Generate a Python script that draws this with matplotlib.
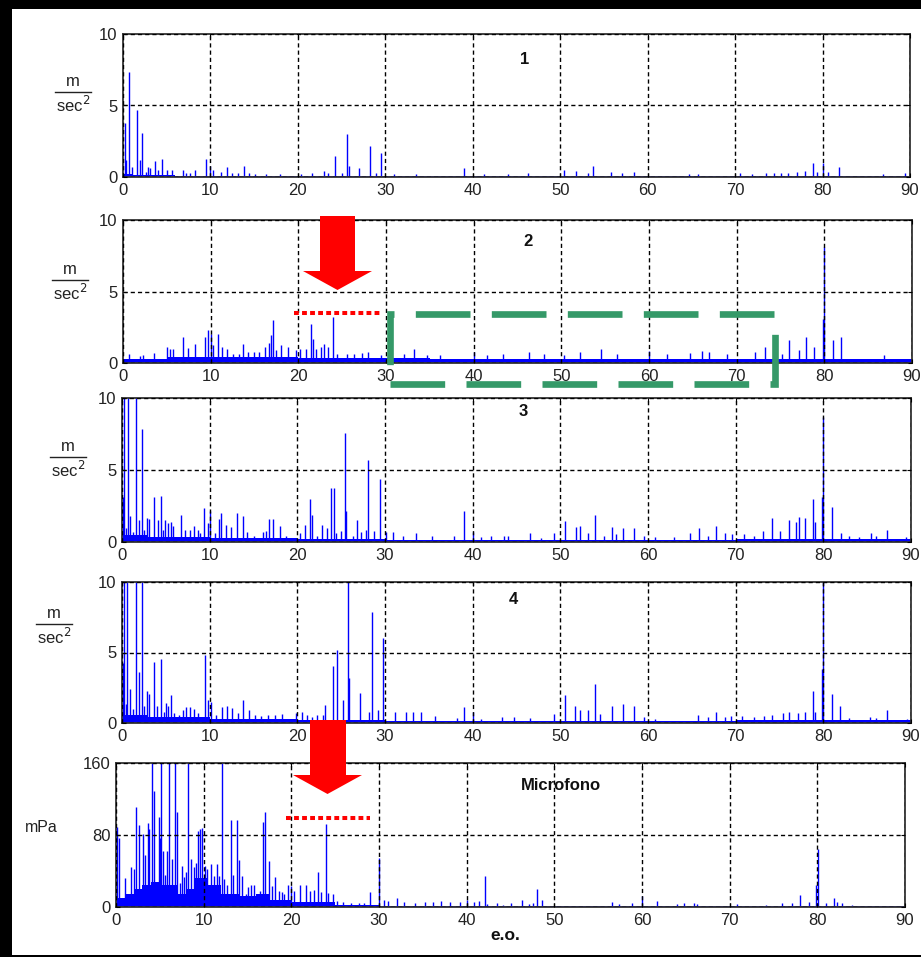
import matplotlib
matplotlib.use('Agg')
import matplotlib.pyplot as plt
from matplotlib.patches import Polygon, Rectangle
from matplotlib.lines import Line2D

# ---- data ----
p1_x = [0.2, 0.3, 0.65, 1.0, 1.65, 1.9, 2.2, 2.6, 2.9, 3.1, 3.7, 4.0, 4.5, 5.0, 5.6, 6.9, 7.2, 7.7, 8.2,
        9.5, 10.0, 10.3, 11.2, 11.85, 12.5, 13.1, 13.8, 14.4, 15.1, 16.3, 17.9, 20.4, 21.6, 23.0, 23.4,
        24.2, 25.0, 25.6, 25.8, 27.0, 28.25, 28.9, 29.5, 31.0, 33.5, 39.0, 41.25, 44.0, 46.3, 50.45,
        51.8, 53.2, 53.8, 55.8, 57.1, 58.4, 64.7, 65.8, 70.6, 71.9, 73.5, 74.4, 75.3, 76.1, 77.1, 78.0,
        78.9, 79.4, 80.0, 80.6, 81.9, 86.9, 89.4]
p1_h = [3.8, 1.2, 7.35, 0.7, 4.7, 1.2, 3.1, 0.35, 0.7, 0.6, 1.15, 0.5, 1.25, 0.5, 0.5, 0.5, 0.3, 0.3, 0.5,
        1.25, 0.8, 0.5, 0.35, 0.7, 0.3, 0.3, 0.8, 0.3, 0.2, 0.2, 0.2, 0.2, 0.3, 0.4, 0.3,
        1.5, 0.3, 3.0, 0.8, 0.6, 2.2, 0.3, 1.7, 0.2, 0.2, 0.6, 0.2, 0.2, 0.3, 0.5,
        0.4, 0.3, 0.8, 0.35, 0.3, 0.35, 0.2, 0.2, 0.3, 0.2, 0.25, 0.3, 0.3, 0.3, 0.35, 0.4,
        1.0, 0.35, 0.95, 0.35, 0.7, 0.2, 0.3]
p1_floor_x = [0, 1, 6, 15, 90]
p1_floor_y = [0.2, 0.15, 0.1, 0.08, 0.08]

p2_x = [0.7, 1.9, 2.3, 3.55, 5.0, 5.35, 5.75, 6.9, 7.45, 8.2, 8.7, 9.3, 9.75, 10.0, 10.3, 10.8, 11.25,
        11.85, 12.6, 13.2, 13.65, 14.3, 14.9, 15.55, 16.2, 16.7, 16.85, 17.1, 17.5, 18.0, 18.85, 19.7,
        20.2, 20.85, 21.5, 21.7, 22.0, 22.55, 22.9, 23.4, 23.9, 24.4, 25.55, 26.3, 27.3, 28.0, 29.4,
        32.1, 33.2, 34.7, 36.2, 40.0, 41.5, 43.4, 46.3, 48.0, 50.35, 52.1, 54.55, 56.35, 60.05, 62.0,
        64.7, 66.0, 66.8, 68.9, 72.05, 73.2, 75.2, 76.0, 77.1, 77.95, 78.85, 79.8, 80.0, 80.95, 81.9,
        86.85, 89.4]
p2_h = [0.6, 0.5, 0.55, 0.7, 1.15, 0.95, 0.95, 1.8, 1.05, 1.3, 0.45, 1.8, 2.3, 2.0, 1.25, 2.0, 1.1,
        1.0, 0.65, 0.65, 1.35, 0.8, 0.8, 0.8, 1.1, 1.4, 1.95, 3.0, 0.9, 1.25, 1.1, 0.9,
        0.95, 0.95, 2.75, 1.7, 1.0, 1.1, 1.3, 1.1, 3.2, 0.65, 0.65, 0.6, 0.7, 0.8, 0.55,
        0.65, 0.95, 0.55, 0.55, 0.8, 0.55, 0.6, 0.75, 0.65, 0.55, 0.8, 0.95, 0.65, 0.85, 0.6,
        0.7, 0.85, 0.75, 0.6, 0.75, 1.1, 0.65, 1.6, 0.9, 1.8, 1.15, 3.1, 8.1, 1.6, 1.8,
        0.55, 0.3]
p2_floor_x = [0, 5, 20, 35, 70, 90]
p2_floor_y = [0.3, 0.4, 0.35, 0.28, 0.3, 0.3]

p3_x = [0.1, 0.25, 0.5, 0.7, 0.95, 1.25, 1.55, 1.9, 2.25, 2.5, 2.8, 3.1, 3.65, 4.1, 4.45, 4.7, 4.95,
        5.2, 5.55, 5.85, 6.7, 7.2, 7.7, 8.2, 8.65, 8.95, 9.4, 9.8, 10.05, 10.6, 11.05, 11.25, 11.9,
        12.4, 13.1, 13.75, 14.3, 15.1, 16.05, 16.4, 16.8, 17.2, 18.0, 18.7, 20.3, 20.9, 21.5, 21.7,
        22.2, 22.85, 23.35, 23.8, 24.15, 24.45, 25.0, 25.4, 25.6, 26.35, 26.85, 27.3, 27.8, 28.1,
        28.8, 29.4, 30.1, 30.9, 32.0, 33.5, 35.4, 37.9, 39.05, 40.0, 40.95, 42.1, 43.6, 44.0, 46.5,
        47.8, 49.25, 50.5, 51.8, 52.2, 53.1, 53.9, 55.0, 55.9, 56.35, 57.2, 58.4, 59.55, 60.8, 63.0,
        64.8, 65.8, 66.8, 67.8, 68.8, 69.6, 70.9, 72.1, 73.1, 74.1, 75.05, 76.1, 76.9, 77.2, 77.9,
        78.85, 79.0, 79.8, 80.0, 81.0, 82.0, 82.95, 84.1, 85.4, 86.0, 87.3, 89.4]
p3_h = [3.1, 12, 0.95, 12, 1.8, 0.7, 12, 1.5, 7.85, 0.85, 1.7, 1.6, 3.1, 1.5, 3.2, 0.8, 1.5,
        1.3, 1.4, 1.1, 1.9, 0.85, 0.85, 1.1, 0.8, 0.6, 2.35, 1.3, 2.15, 0.6, 1.6, 2.0, 1.2,
        1.05, 2.0, 1.8, 0.7, 0.45, 0.7, 0.75, 1.6, 1.6, 1.1, 0.45, 0.6, 1.2, 3.0, 1.85,
        0.45, 1.2, 0.95, 3.75, 3.75, 0.6, 0.75, 7.55, 2.15, 0.45, 1.5, 0.7, 0.85, 5.7,
        0.75, 4.35, 0.7, 0.7, 0.45, 0.6, 0.4, 0.4, 2.15, 0.7, 0.35, 0.45, 0.45, 0.45, 0.6,
        0.25, 0.6, 1.45, 1.05, 1.1, 0.65, 1.85, 0.45, 1.05, 0.55, 1.0, 1.0, 0.45, 0.35, 0.35,
        0.65, 1.0, 0.45, 1.1, 0.6, 0.55, 0.55, 0.45, 0.75, 1.65, 0.75, 1.5, 1.4, 1.75, 1.65,
        3.0, 1.4, 3.1, 8.7, 2.45, 0.6, 0.45, 0.35, 0.6, 0.45, 0.85, 0.35]
p3_floor_x = [0, 3, 10, 20, 30, 70, 90]
p3_floor_y = [0.5, 0.35, 0.3, 0.2, 0.15, 0.2, 0.2]

p4_x = [0.1, 0.25, 0.45, 0.6, 0.95, 1.25, 1.55, 1.9, 2.25, 2.55, 2.85, 3.1, 3.65, 3.95, 4.45, 4.75,
        5.0, 5.25, 5.6, 5.9, 6.5, 6.95, 7.3, 7.8, 8.25, 8.7, 9.5, 9.85, 10.2, 10.75, 11.35, 12.0,
        12.5, 13.2, 13.85, 14.5, 15.2, 15.8, 16.6, 17.4, 18.2, 19.8, 20.5, 21.1, 21.7, 22.3, 22.9,
        23.15, 24.1, 24.5, 25.25, 25.75, 25.95, 27.2, 28.2, 28.5, 29.2, 29.75, 31.15, 32.35, 33.2,
        34.15, 35.7, 38.2, 39.05, 40.0, 41.0, 43.4, 44.75, 46.5, 49.25, 50.55, 51.7, 52.2, 53.1,
        53.9, 54.55, 55.9, 57.2, 58.4, 59.55, 60.8, 63.0, 65.7, 66.8, 67.8, 68.75, 69.5, 70.75,
        72.1, 73.2, 74.1, 75.35, 76.1, 77.1, 77.95, 78.85, 79.0, 79.8, 80.0, 80.95, 81.9, 82.95,
        85.35, 86.0, 87.3, 89.6]
p4_h = [4.25, 12, 1.35, 12, 2.4, 1.0, 12, 3.6, 12, 1.2, 2.3, 2.05, 4.35, 1.2, 4.55, 0.8,
        1.4, 1.2, 2.0, 0.7, 0.6, 0.95, 1.15, 1.15, 1.0, 0.7, 4.8, 1.65, 1.5, 0.6, 1.15, 1.2,
        1.05, 0.7, 1.65, 0.9, 0.6, 0.5, 0.6, 0.6, 0.65, 0.7, 0.8, 0.6, 0.45, 0.6, 0.6,
        1.25, 4.05, 5.2, 1.65, 12, 3.2, 2.1, 0.8, 7.9, 0.95, 6.05, 0.8, 0.8, 0.8,
        0.75, 0.5, 0.35, 1.1, 0.75, 0.25, 0.4, 0.45, 0.35, 0.65, 2.0, 1.2, 0.9, 0.9,
        2.75, 0.65, 1.2, 1.35, 1.2, 0.45, 0.25, 0.15, 0.6, 0.45, 0.8, 0.45, 0.5, 0.5,
        0.4, 0.5, 0.6, 0.7, 0.8, 0.7, 0.8, 2.3, 0.8, 3.8, 12, 2.05, 1.2, 0.35,
        0.45, 0.35, 0.9, 0.25]
p4_floor_x = [0, 3, 10, 20, 30, 70, 90]
p4_floor_y = [0.6, 0.4, 0.3, 0.2, 0.15, 0.2, 0.2]

mic_x = [0.15, 0.35, 1.0, 1.7, 2.0, 2.3, 2.65, 3.05, 3.3, 3.6, 3.8, 4.1, 4.3, 4.65, 4.9, 5.05, 5.15,
         5.4, 5.6, 5.8, 6.0, 6.4, 6.75, 6.95, 7.3, 7.55, 7.8, 8.0, 8.2, 8.5, 8.85, 9.15, 9.4, 9.6,
         9.8, 10.2, 10.4, 10.8, 11.15, 11.5, 11.8, 12.05, 12.3, 12.7, 13.1, 13.35, 13.75, 14.05,
         14.4, 14.8, 15.05, 15.35, 15.7, 16.0, 16.4, 16.8, 17.05, 17.4, 17.75, 18.1, 18.6, 18.9,
         19.15, 19.65, 20.0, 20.25, 21.0, 21.65, 22.15, 22.6, 23.05, 23.35, 23.95, 24.2, 24.7,
         25.2, 25.85, 26.8, 27.75, 28.3, 28.95, 29.95, 30.6, 31.05, 32.05, 32.9, 34.05, 35.2,
         36.15, 37.1, 38.05, 39.2, 40.0, 40.85, 41.4, 42.1, 42.35, 43.5, 44.1, 45.05, 46.35, 47.1,
         47.6, 48.0, 48.6, 56.6, 57.35, 58.9, 60.0, 61.7, 64.0, 64.75, 65.9, 66.3, 70.85, 74.1,
         76.0, 77.15, 78.0, 79.05, 79.9, 80.05, 80.95, 81.9, 82.25, 82.85, 83.95]
mic_h = [89, 77, 32, 45, 42, 111, 91, 81, 58, 93, 87, 200, 129, 23, 100, 77, 200,
         62, 36, 62, 200, 53, 200, 106, 27, 46, 33, 39, 200, 53, 44, 49, 85, 87,
         88, 46, 42, 48, 35, 48, 35, 200, 31, 25, 97, 36, 97, 52,
         35, 14, 22, 24, 25, 7, 18, 94, 106, 51, 23, 33, 18, 17,
         15, 25, 23, 18, 24, 24, 18, 19, 39, 17, 92, 16, 14,
         7, 6, 4.5, 4, 4.5, 17, 54, 7.5, 7, 10, 6, 4, 6,
         6, 6.5, 6, 6, 7.5, 5.5, 6.5, 34, 3, 4, 2.6, 4, 7.5, 3,
         4.5, 20, 7.5, 5.5, 3, 4.5, 12, 6.5, 3, 4, 4.5, 3, 3, 2.6,
         4, 4.5, 13, 5.5, 24, 64, 4, 9.5, 5.5, 4, 2.6]
mic_floor_x = [0, 1, 2, 3, 4, 5, 7, 8, 9, 10.5, 12, 14, 16, 17.5, 20, 25, 30, 90]
mic_floor_y = [10, 15, 20, 24, 28, 24, 15, 20, 32, 24, 15, 12, 15, 8, 6, 2.5, 1.5, 1.5]

x_ticks = [0, 10, 20, 30, 40, 50, 60, 70, 80, 90]
acc_yticks = [0, 5, 10]
mic_yticks = [0, 80, 160]
panel_names = ['1', '2', '3', '4', 'Microfono']

W, H = 921, 957
fig = plt.figure(figsize=(W / 100, H / 100), dpi=100)
fig.patch.set_facecolor('white')


def fx(x):
    return x / W


def fy(y):
    return 1 - y / H


def make_ax(l, t, r, b):
    return fig.add_axes([fx(l), fy(b), (r - l) / W, (b - t) / H])


# axes boxes in pixels (left, top, right, bottom)
boxes = [(123, 34, 910, 177), (123, 220, 912, 363), (122, 398, 911, 542),
         (122, 582, 911, 723), (116, 763, 905, 907)]
series = [(p1_x, p1_h, p1_floor_x, p1_floor_y), (p2_x, p2_h, p2_floor_x, p2_floor_y),
          (p3_x, p3_h, p3_floor_x, p3_floor_y), (p4_x, p4_h, p4_floor_x, p4_floor_y),
          (mic_x, mic_h, mic_floor_x, mic_floor_y)]

tick_font = dict(family='Liberation Sans', size=12)
axes = []
for i, (box, (xs, hs, fxs, fys)) in enumerate(zip(boxes, series)):
    ax = make_ax(*box)
    ax.fill_between(fxs, 0, fys, step='post', color='#0000ff', lw=0)
    ax.vlines(xs, 0, hs, color='#0000ff', lw=1.0)
    ax.axhline(0, color='#0000ff', lw=2)
    ax.set_xlim(0, 90)
    if i < 4:
        ax.set_ylim(0, 10)
        ax.set_yticks(acc_yticks)
    else:
        ax.set_ylim(0, 160)
        ax.set_yticks(mic_yticks)
    ax.set_xticks(x_ticks)
    ax.grid(True, color='black', linestyle=(0, (3, 2.2)), lw=1.0)
    ax.set_axisbelow(False)
    ax.tick_params(direction='in', length=3, top=True, right=True, pad=4)
    for lab in ax.get_xticklabels() + ax.get_yticklabels():
        lab.set_fontproperties(tick_font)
        lab.set_color('#222222')
    for s in ax.spines.values():
        s.set_color('#333333')
        s.set_linewidth(1.3)
    axes.append(ax)

# panel titles
title_pos = [(525, 60), (528, 242), (523, 411), (513, 600), (561, 785)]
for name, (x, y) in zip(panel_names, title_pos):
    fig.text(fx(x), fy(y), name, ha='center', va='center', family='Liberation Sans',
             fontsize=12, fontweight='bold', color='#111111')

# y labels m / sec^2
frac_pos = [(73, 92), (70, 280), (68, 457), (54, 624)]
for cx, ly in frac_pos:
    fig.text(fx(cx), fy(ly - 3), 'm', ha='center', va='bottom', family='Liberation Sans',
             fontsize=12, color='#222222')
    fig.add_artist(Line2D([fx(cx - 18), fx(cx + 18)], [fy(ly), fy(ly)], color='#222222', lw=1.0))
    fig.text(fx(cx), fy(ly + 3), 'sec$^2$', ha='center', va='top', family='Liberation Sans',
             fontsize=12, color='#222222')
fig.text(fx(41), fy(828), 'mPa', ha='center', va='center', family='Liberation Sans',
         fontsize=11.5, color='#222222')
fig.text(fx(505), fy(935), 'e.o.', ha='center', va='center', family='Liberation Sans',
         fontsize=12.5, fontweight='bold', color='#111111')


# red arrows (pixel geometry)
def red_arrow(sx0, sx1, top, neck, hx0, hx1, tip):
    pts = [(sx0, top), (sx1, top), (sx1, neck), (hx1, neck), ((hx0 + hx1) / 2, tip),
           (hx0, neck), (sx0, neck)]
    fig.add_artist(Polygon([(fx(a), fy(b)) for a, b in pts], closed=True,
                           facecolor='#ff0000', edgecolor='none', transform=fig.transFigure))


red_arrow(320, 355, 216, 271, 303, 372, 290)
red_arrow(310, 346, 720, 775, 293, 362, 794)

# red dotted levels
for x0, x1, y in [(294, 380, 313), (286, 370, 818)]:
    fig.add_artist(Line2D([fx(x0), fx(x1)], [fy(y), fy(y)], color='#ff0000', lw=2.9,
                          linestyle=(0, (1.2, 0.8)), solid_capstyle='butt', dash_capstyle='butt'))

# green dashed box
fig.add_artist(Rectangle((fx(390), fy(384)), (775 - 390) / W, (384 - 314) / H, fill=False,
                         edgecolor='#359968', lw=4.8, linestyle=(0, (8.2, 3.2)),
                         transform=fig.transFigure))

# black frame
for x, y, w, h in [(0, 0, 12, H), (0, 0, W, 9), (0, 955, W, 2)]:
    fig.add_artist(Rectangle((fx(x), fy(y + h)), w / W, h / H, facecolor='black',
                             edgecolor='none', transform=fig.transFigure))

fig.savefig('out.png', dpi=100)
